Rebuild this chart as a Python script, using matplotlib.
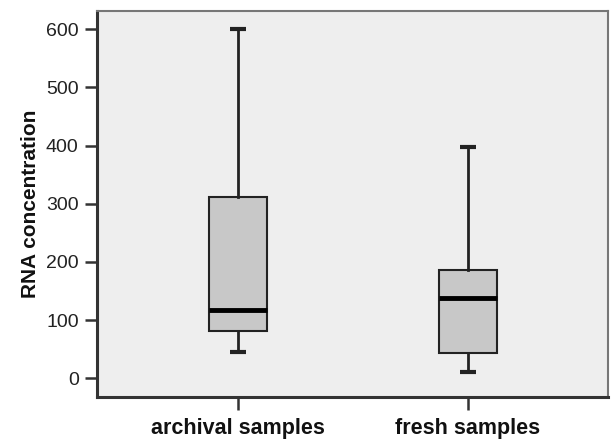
import matplotlib
matplotlib.use("Agg")
import matplotlib.pyplot as plt

categories = ["archival samples", "fresh samples"]
whisker_low = [45, 10]
q1 = [81, 44]
median = [117, 138]
q3 = [312, 186]
whisker_high = [600, 398]
yticks = [0, 100, 200, 300, 400, 500, 600]

plt.rcParams['font.family'] = ['Liberation Sans', 'DejaVu Sans']

fig = plt.figure(figsize=(6.14, 4.46), dpi=100)
ax = fig.add_axes([96.7/614, 1-397.3/446, (608-96.7)/614, (397.3-10.7)/446])
ax.set_facecolor('#EEEEEE')

stats = []
for i, c in enumerate(categories):
    stats.append({'label': c, 'whislo': whisker_low[i], 'q1': q1[i], 'med': median[i],
                  'q3': q3[i], 'whishi': whisker_high[i], 'fliers': []})

positions = list(range(1, len(categories) + 1))
ax.bxp(stats, positions=positions, widths=0.25, capwidths=0.07, patch_artist=True,
       showfliers=False,
       boxprops=dict(facecolor='#C8C8C8', edgecolor='#222222', linewidth=1.5),
       medianprops=dict(color='black', linewidth=3.5, solid_capstyle='butt'),
       whiskerprops=dict(color='#222222', linewidth=2),
       capprops=dict(color='#222222', linewidth=3, solid_capstyle='butt'))

ax.set_xlim(0.386, 2.609)
ax.set_ylim(-32.7, 632)
ax.set_yticks(yticks)
ax.set_yticklabels([str(v) for v in yticks], fontsize=14, color='#222222')
ax.set_xticks(positions)
ax.set_xticklabels(categories, fontsize=15.5, fontweight='bold', color='#111111')
ax.tick_params(axis='both', direction='out', length=9, width=1.8, color='#333333')
ax.tick_params(axis='y', pad=4)
ax.tick_params(axis='x', pad=6)

for s in ['left', 'bottom']:
    ax.spines[s].set_color('#333333')
    ax.spines[s].set_linewidth(2.2)
for s in ['top', 'right']:
    ax.spines[s].set_color('#777777')
    ax.spines[s].set_linewidth(1.5)

ax.set_ylabel('RNA concentration', fontsize=15, fontweight='bold', color='#111111')
ax.yaxis.set_label_coords(-(96.7-40)/511.3, 0.5)

fig.savefig('out.png', dpi=100, facecolor='white')
